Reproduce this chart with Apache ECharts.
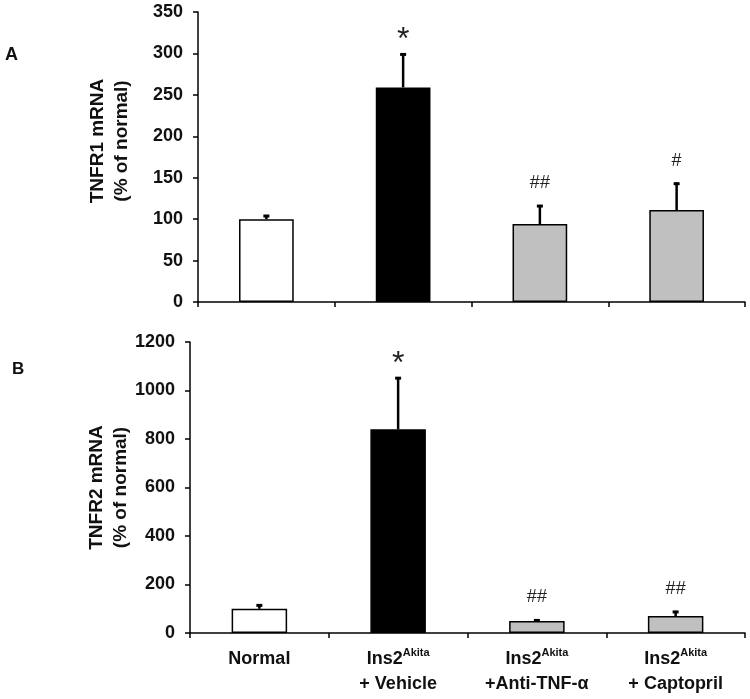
<!DOCTYPE html>
<html>
<head>
<meta charset="utf-8">
<script src="https://cdn.jsdelivr.net/npm/echarts@6/dist/echarts.min.js"></script>
<style>
  html, body { margin: 0; padding: 0; background: #fff; }
  #chart { width: 750px; height: 699px; }
</style>
</head>
<body>
<div id="chart"></div>
<script>
const groups = ['Normal', 'Vehicle', 'Anti-TNF', 'Captopril'];
const groupLabels = [
  '{b|Normal}',
  '{b|Ins2}{sup|Akita}\n{b|+ Vehicle}',
  '{b|Ins2}{sup|Akita}\n{b|+Anti-TNF-α}',
  '{b|Ins2}{sup|Akita}\n{b|+ Captopril}'
];
const barColors = ['#ffffff', '#000000', '#c0c0c0', '#c0c0c0'];

// panel A: TNFR1 mRNA (% of normal)
const tnfr1Mean = [100, 259, 94, 111];
const tnfr1Sem = [5, 41, 23, 33];
const tnfr1Marks = ['', '*', '##', '#'];

// panel B: TNFR2 mRNA (% of normal)
const tnfr2Mean = [100, 840, 49, 70];
const tnfr2Sem = [18, 215, 7, 21];
const tnfr2Marks = ['', '*', '##', '##'];

const FONT = 'Liberation Sans, Arial, sans-serif';

function barSeries(mean, axisIdx) {
  return {
    type: 'bar',
    xAxisIndex: axisIdx,
    yAxisIndex: axisIdx,
    barWidth: '40%',
    data: mean.map((v, i) => ({
      value: v,
      itemStyle: { color: barColors[i], borderColor: '#000', borderWidth: 1.5 }
    })),
    silent: true
  };
}

// upper-only error bar + significance mark above it
function errSeries(mean, sem, marks, axisIdx) {
  return {
    type: 'custom',
    xAxisIndex: axisIdx,
    yAxisIndex: axisIdx,
    silent: true,
    z: 5,
    data: mean.map((v, i) => [i, v, v + sem[i]]),
    renderItem: function (params, api) {
      const i = api.value(0);
      const base = api.coord([i, api.value(1)]);
      const top = api.coord([i, api.value(2)]);
      const mark = marks[i];
      const children = [
        { type: 'line', shape: { x1: base[0], y1: base[1], x2: top[0], y2: top[1] },
          style: { stroke: '#000', lineWidth: 2.5 } },
        { type: 'line', shape: { x1: top[0] - 3, y1: top[1] + 1, x2: top[0] + 3, y2: top[1] + 1 },
          style: { stroke: '#000', lineWidth: 3 } }
      ];
      if (mark) {
        const star = mark === '*';
        children.push({
          type: 'text',
          x: top[0], y: top[1] - (star ? 13 : 22),
          style: {
            text: mark, fill: '#222', align: 'center', verticalAlign: 'middle',
            font: star ? '32px ' + FONT : '18px ' + FONT
          }
        });
      }
      return { type: 'group', children: children };
    }
  };
}

const yLabel = { color: '#111', fontSize: 18, fontWeight: 'bold', fontFamily: FONT, margin: 15,
  formatter: v => String(v) };
const yName = { color: '#111', fontSize: 19, fontWeight: 'bold', fontFamily: FONT, lineHeight: 24 };
const axisBlack = { show: true, lineStyle: { color: '#000', width: 1.5 } };
const tickBlack = { show: true, length: 5, lineStyle: { color: '#000', width: 1.5 } };

const chart = echarts.init(document.getElementById('chart'));
chart.setOption({
  animation: false,
  backgroundColor: '#fff',
  grid: [
    { left: 198, top: 12, width: 547, height: 290 },
    { left: 190, top: 342, width: 555, height: 291 }
  ],
  xAxis: [
    { type: 'category', gridIndex: 0, data: groups, axisLine: axisBlack,
      axisTick: tickBlack, axisLabel: { show: false } },
    { type: 'category', gridIndex: 1, data: groups, axisLine: axisBlack,
      axisTick: tickBlack,
      axisLabel: {
        interval: 0, margin: 14, align: 'center',
        formatter: (v, i) => groupLabels[i],
        rich: {
          b: { fontSize: 18, fontWeight: 'bold', fontFamily: FONT, color: '#111', lineHeight: 25 },
          sup: { fontSize: 11, fontWeight: 'bold', fontFamily: FONT, color: '#111', verticalAlign: 'top', lineHeight: 21 }
        }
      } }
  ],
  yAxis: [
    { type: 'value', gridIndex: 0, min: 0, max: 350, interval: 50,
      axisLine: axisBlack, splitLine: { show: false }, axisTick: tickBlack,
      axisLabel: yLabel,
      name: 'TNFR1 mRNA\n(% of normal)', nameLocation: 'middle', nameRotate: 90, nameGap: 64,
      nameMoveOverlap: false,
      nameTextStyle: Object.assign({ padding: [0, 0, 0, 32] }, yName) },
    { type: 'value', gridIndex: 1, min: 0, max: 1200, interval: 200,
      axisLine: axisBlack, splitLine: { show: false }, axisTick: tickBlack,
      axisLabel: yLabel,
      name: 'TNFR2 mRNA\n(% of normal)', nameLocation: 'middle', nameRotate: 90, nameGap: 57,
      nameMoveOverlap: false,
      nameTextStyle: yName }
  ],
  graphic: [
    { type: 'text', left: 5, top: 46, style: { text: 'A', font: 'bold 18px ' + FONT, fill: '#111' } },
    { type: 'text', left: 12, top: 361, style: { text: 'B', font: 'bold 17px ' + FONT, fill: '#111' } }
  ],
  series: [
    barSeries(tnfr1Mean, 0),
    errSeries(tnfr1Mean, tnfr1Sem, tnfr1Marks, 0),
    barSeries(tnfr2Mean, 1),
    errSeries(tnfr2Mean, tnfr2Sem, tnfr2Marks, 1)
  ]
});
</script>
</body>
</html>
